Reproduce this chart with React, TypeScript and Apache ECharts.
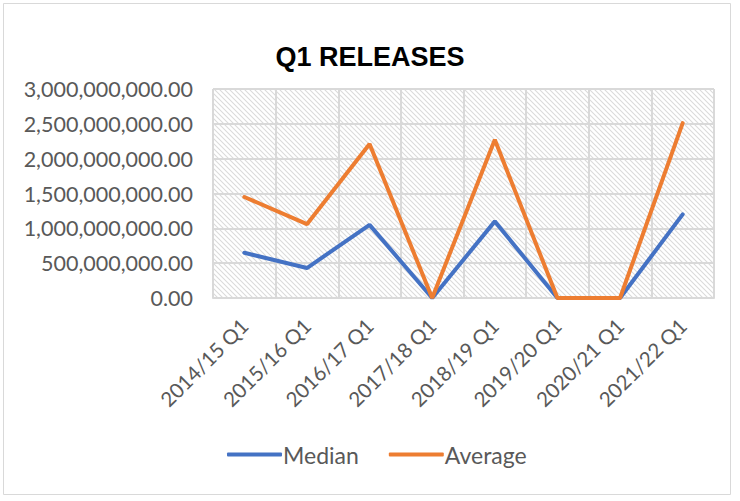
import React, { useEffect, useRef } from "react";
import * as echarts from "echarts";

const categories = [
  "2014/15 Q1",
  "2015/16 Q1",
  "2016/17 Q1",
  "2017/18 Q1",
  "2018/19 Q1",
  "2019/20 Q1",
  "2020/21 Q1",
  "2021/22 Q1",
];
const medianValues = [650000000, 430000000, 1050000000, 0, 1100000000, 0, 0, 1200000000];
const averageValues = [1450000000, 1060000000, 2210000000, 0, 2270000000, 0, 0, 2510000000];

function makeHatch(): HTMLCanvasElement {
  const s = 5;
  const c = document.createElement("canvas");
  c.width = s;
  c.height = s;
  const ctx = c.getContext("2d")!;
  ctx.fillStyle = "#ffffff";
  ctx.fillRect(0, 0, s, s);
  ctx.strokeStyle = "#dadada";
  ctx.lineWidth = 1.1;
  for (const o of [-s, 0, s]) {
    ctx.beginPath();
    ctx.moveTo(o - 1, -1);
    ctx.lineTo(o + s + 1, s + 1);
    ctx.stroke();
  }
  return c;
}

function fmt(v: number): string {
  return v.toLocaleString("en-US", { minimumFractionDigits: 2, maximumFractionDigits: 2 });
}

export default function App() {
  const ref = useRef<HTMLDivElement>(null);
  useEffect(() => {
    if (!ref.current) return;
    const chart = echarts.init(ref.current, undefined, { renderer: "svg" });
    const font = "Lato, 'Open Sans', sans-serif";
    chart.setOption({
      animation: false,
      backgroundColor: "#ffffff",
      title: {
        text: "Q1 RELEASES",
        left: "center",
        top: 38,
        textStyle: {
          fontFamily: "'Liberation Sans', Arial, sans-serif",
          fontWeight: "bold",
          fontSize: 27,
          color: "#000000",
        },
      },
      graphic: [
        {
          type: "rect",
          shape: { x: 3.5, y: 3.5, width: 727, height: 491 },
          style: { fill: "none", stroke: "#d9d9d9", lineWidth: 1 },
          silent: true,
        },
      ],
      legend: {
        bottom: 30,
        left: 222,
        itemWidth: 55,
        itemHeight: 4,
        itemGap: 30,
        icon: "roundRect",
        textStyle: { fontFamily: font, fontSize: 23, color: "#595959", padding: [0, 0, 0, -4] },
        data: ["Median", "Average"],
      },
      grid: {
        left: 213,
        right: 26,
        top: 89,
        bottom: 203,
        show: true,
        borderColor: "#d9d9d9",
        borderWidth: 1,
        backgroundColor: { image: makeHatch(), repeat: "repeat" },
      },
      xAxis: {
        type: "category",
        data: categories,
        boundaryGap: true,
        axisLine: { show: true, lineStyle: { color: "#d9d9d9", width: 2 } },
        axisTick: { show: false },
        splitLine: { show: true, interval: 0, lineStyle: { color: "#d9d9d9", width: 2 } },
        axisLabel: {
          rotate: 45,
          interval: 0,
          margin: 24,
          fontFamily: font,
          fontSize: 20.5,
          color: "#595959",
        },
      },
      yAxis: {
        type: "value",
        min: 0,
        max: 3000000000,
        interval: 500000000,
        axisLine: { show: false },
        axisTick: { show: false },
        splitLine: { show: true, lineStyle: { color: "#d9d9d9", width: 2 } },
        axisLabel: {
          margin: 20,
          fontFamily: font,
          fontSize: 21.5,
          color: "#595959",
          formatter: (v: number) => fmt(v),
        },
      },
      series: [
        {
          name: "Median",
          type: "line",
          data: medianValues,
          symbol: "none",
          lineStyle: { color: "#4472C4", width: 4, cap: "round" },
          itemStyle: { color: "#4472C4" },
        },
        {
          name: "Average",
          type: "line",
          data: averageValues,
          symbol: "none",
          lineStyle: { color: "#ED7D31", width: 4, cap: "round" },
          itemStyle: { color: "#ED7D31" },
        },
      ],
    });
    return () => chart.dispose();
  }, []);
  return (
    <div
      ref={ref}
      style={{ position: "absolute", left: 0, top: 0, width: 740, height: 501 }}
    />
  );
}
